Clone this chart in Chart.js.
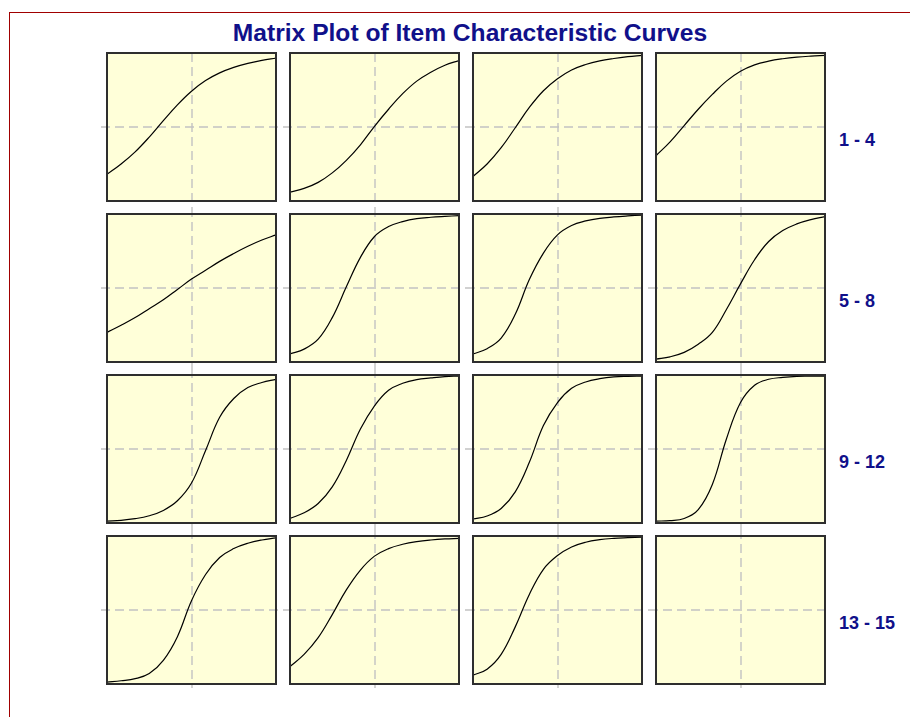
<!DOCTYPE html>
<html>
<head>
<meta charset="utf-8">
<script src="https://cdn.jsdelivr.net/npm/chart.js@4.4.1/dist/chart.umd.min.js"></script>
<style>
html, body { margin:0; padding:0; background:#fff; overflow:hidden; width:910px; height:717px; }
#frame { position:absolute; left:9px; top:12px; width:1000px; height:800px; border:1px solid #a00000; box-sizing:border-box; }
#title { position:absolute; left:170px; top:21px; width:600px; text-align:center; white-space:nowrap;
  font:bold 24.6px/24px "Liberation Sans", Arial, sans-serif; color:#10108a; }
.rowlab { position:absolute; left:839px; white-space:nowrap; font:bold 18px/18px "Liberation Sans", Arial, sans-serif; color:#10108a; }
canvas { position:absolute; }
</style>
</head>
<body>
<div id="frame"></div>
<div id="title">Matrix Plot of Item Characteristic Curves</div>
<div id="plots"></div>
<script>
// ability scale (theta) where each curve was read
var theta = [-3, -2.5, -2, -1.5, -1, -0.5, 0, 0.5, 1, 1.5, 2, 2.5, 3];

// probability of a correct answer
var item1  = [0.18, 0.25, 0.332, 0.432, 0.543, 0.65, 0.742, 0.814, 0.866, 0.903, 0.93, 0.95, 0.966];
var item2  = [0.06, 0.085, 0.126, 0.19, 0.275, 0.38, 0.505, 0.62, 0.725, 0.81, 0.87, 0.917, 0.949];
var item3  = [0.166, 0.25, 0.36, 0.495, 0.632, 0.745, 0.826, 0.885, 0.922, 0.947, 0.963, 0.975, 0.984];
var item4  = [0.306, 0.40, 0.51, 0.62, 0.72, 0.81, 0.877, 0.92, 0.945, 0.961, 0.972, 0.979, 0.984];
var item5  = [0.20, 0.248, 0.30, 0.36, 0.42, 0.49, 0.56, 0.62, 0.68, 0.733, 0.782, 0.824, 0.859];
var item6  = [0.054, 0.087, 0.154, 0.30, 0.508, 0.707, 0.848, 0.915, 0.949, 0.969, 0.978, 0.984, 0.989];
var item7  = [0.054, 0.09, 0.161, 0.322, 0.557, 0.736, 0.859, 0.922, 0.953, 0.971, 0.98, 0.987, 0.993];
var item8  = [0.02, 0.035, 0.065, 0.12, 0.2, 0.355, 0.528, 0.691, 0.814, 0.888, 0.933, 0.962, 0.982];
var item9  = [0.013, 0.018, 0.029, 0.049, 0.085, 0.15, 0.27, 0.49, 0.714, 0.841, 0.915, 0.949, 0.971];
var item10 = [0.031, 0.069, 0.132, 0.244, 0.423, 0.635, 0.792, 0.897, 0.944, 0.969, 0.98, 0.989, 0.993];
var item11 = [0.027, 0.047, 0.098, 0.21, 0.41, 0.658, 0.814, 0.91, 0.953, 0.975, 0.987, 0.991, 0.993];
var item12 = [0.013, 0.016, 0.03, 0.09, 0.26, 0.568, 0.814, 0.931, 0.971, 0.984, 0.991, 0.992, 0.993];
var item13 = [0.013, 0.022, 0.036, 0.071, 0.16, 0.32, 0.563, 0.74, 0.855, 0.915, 0.951, 0.973, 0.987];
var item14 = [0.118, 0.20, 0.313, 0.469, 0.636, 0.77, 0.864, 0.915, 0.944, 0.962, 0.973, 0.98, 0.984];
var item15 = [0.06, 0.10, 0.20, 0.386, 0.605, 0.775, 0.868, 0.926, 0.958, 0.975, 0.984, 0.989, 0.993];

var rowLabels = ['1 - 4', '5 - 8', '9 - 12', '13 - 15'];

var items = [item1, item2, item3, item4, item5, item6, item7, item8,
             item9, item10, item11, item12, item13, item14, item15];

// each canvas is one tile of the 4x4 matrix (panel + half of the gaps round it)
var tileW = 183, tileH = 161;

// panel background, dashed reference lines at theta 0 / p .5, then frame
var panelFrame = {
	id: 'panelFrame',
	beforeDatasetsDraw: function(chart, args, opts) {
		var ctx = chart.ctx, a = chart.chartArea;
		ctx.save();
		ctx.fillStyle = '#ffffd9';
		ctx.fillRect(a.left, a.top, a.right - a.left, a.bottom - a.top);
		var gx = Math.round(chart.scales.x.getPixelForValue(0));
		var gy = Math.round(chart.scales.y.getPixelForValue(0.5));
		ctx.strokeStyle = '#c2c2c2';
		ctx.lineWidth = 1.4;
		ctx.setLineDash([9, 5]);
		ctx.beginPath();
		ctx.moveTo(opts.col == 0 ? a.left - 6 : 0, gy);
		ctx.lineTo(opts.col == 3 ? a.right + 5 : chart.width, gy);
		ctx.moveTo(gx, opts.row == 0 ? a.top : 0);
		ctx.lineTo(gx, opts.row == 3 ? a.bottom + 4 : chart.height);
		ctx.stroke();
		ctx.restore();
	},
	afterDatasetsDraw: function(chart) {
		var ctx = chart.ctx, a = chart.chartArea;
		ctx.save();
		ctx.strokeStyle = '#2e2e2e';
		ctx.lineWidth = 2;
		ctx.strokeRect(a.left, a.top, a.right - a.left, a.bottom - a.top);
		ctx.restore();
	}
};

var holder = document.getElementById('plots');

for (var i = 0; i < 16; i++) {
	var row = Math.floor(i / 4), col = i % 4;
	var cv = document.createElement('canvas');
	cv.width = tileW; cv.height = tileH;
	cv.style.left = (100 + col * tileW) + 'px';
	cv.style.top = (47 + row * tileH) + 'px';
	cv.style.width = tileW + 'px'; cv.style.height = tileH + 'px';
	holder.appendChild(cv);

	var vals = items[i];
	var datasets = [];
	if (vals) {
		datasets.push({
			data: theta.map(function(t, k) { return {x: t, y: vals[k]}; }),
			borderColor: '#000',
			borderWidth: 1.2,
			pointRadius: 0,
			tension: 0.4,
			fill: false
		});
	}

	new Chart(cv.getContext('2d'), {
		type: 'line',
		data: { datasets: datasets },
		options: {
			responsive: false,
			animation: false,
			devicePixelRatio: 1,
			layout: { padding: { left: 7, right: 7, top: 6, bottom: 7 } },
			scales: {
				x: { type: 'linear', min: -3, max: 3, display: false },
				y: { min: 0, max: 1, display: false }
			},
			plugins: {
				legend: { display: false },
				tooltip: { enabled: false },
				panelFrame: { row: row, col: col }
			}
		},
		plugins: [panelFrame]
	});
}

// row captions on the right
rowLabels.forEach(function(txt, r) {
	var d = document.createElement('div');
	d.className = 'rowlab';
	d.style.top = (131 + r * tileH) + 'px';
	d.textContent = txt;
	document.body.appendChild(d);
});
</script>
</body>
</html>
